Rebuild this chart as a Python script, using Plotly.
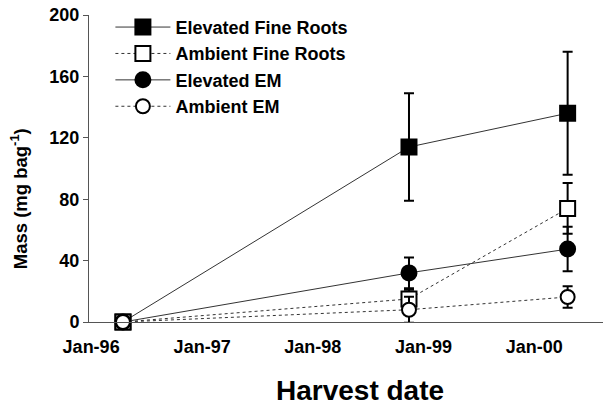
import plotly.graph_objects as go

dates = ["1996-04-15", "1998-11-14", "2000-04-20"]
tick_dates = ["1996-01-01", "1997-01-01", "1998-01-01", "1999-01-01", "2000-01-01"]
tick_labels = ["Jan-96", "Jan-97", "Jan-98", "Jan-99", "Jan-00"]

elev_fr = [0, 114, 136]
elev_fr_err = [0, 35, 40]
amb_fr = [0, 15, 74]
amb_fr_err = [0, 6, 16.5]
elev_em = [0, 32, 47.5]
elev_em_err = [0, 10, 14.5]
amb_em = [0, 8, 16.3]
amb_em_err = [0, 8.5, 7]

FONT = "Liberation Sans, Arial, sans-serif"

series = [
    ("Elevated Fine Roots", elev_fr, elev_fr_err, "square", "black", "solid", 15),
    ("Ambient Fine Roots", amb_fr, amb_fr_err, "square", "white", "dot", 15),
    ("Elevated EM", elev_em, elev_em_err, "circle", "black", "solid", 15),
    ("Ambient EM", amb_em, amb_em_err, "circle", "white", "dot", 14),
]

fig = go.Figure()
for name, y, err, sym, col, dash, size in series:
    fig.add_trace(go.Scatter(
        x=dates, y=y, name=name, mode="lines+markers",
        line=dict(color="#333333", width=1, dash=dash),
        marker=dict(symbol=sym, size=size, color=col,
                    line=dict(color="black", width=2)),
        error_y=dict(type="data", array=err, visible=True, color="black",
                     thickness=2, width=5),
        cliponaxis=False,
    ))

# page has an 8px body margin, so the figure is 8px smaller and offset
fig.update_layout(
    width=603, height=399,
    margin=dict(l=81, r=0, t=7, b=85, autoexpand=False),
    paper_bgcolor="white", plot_bgcolor="white",
    font=dict(family=FONT, color="black", size=14, weight="bold"),
    showlegend=True,
    legend=dict(x=0.041, y=1.02, xanchor="left", yanchor="top",
                font=dict(size=18, family=FONT, weight="bold"),
                itemwidth=55, bgcolor="rgba(0,0,0,0)", tracegroupgap=0),
    annotations=[
        dict(text="Mass (mg bag<sup>-1</sup>)", xref="paper", yref="paper",
             x=-0.134, y=0.40, textangle=-90, showarrow=False,
             xanchor="center", yanchor="middle",
             font=dict(size=18.5, family=FONT, weight="bold")),
        dict(text="Harvest date", xref="paper", yref="paper",
             x=0.5 + 10 / 522, y=-0.222, showarrow=False,
             xanchor="center", yanchor="middle",
             font=dict(size=28, family=FONT, weight="bold")),
    ],
)
fig.update_xaxes(
    type="date", range=["1995-12-25", "2000-09-10"], automargin=False,
    tickvals=tick_dates, ticktext=tick_labels,
    showline=True, linecolor="#555555", linewidth=1,
    showgrid=False, zeroline=False, ticks="", ticklabelstandoff=8,
    ticklabeloverflow="allow",
    tickfont=dict(size=18, family=FONT, weight="bold"),
)
fig.update_yaxes(
    range=[0, 200], tickvals=[0, 40, 80, 120, 160, 200], automargin=False,
    showline=True, linecolor="#555555", linewidth=1,
    showgrid=False, zeroline=False, ticks="outside", ticklen=5, tickcolor="#555555",
    ticklabeloverflow="allow",
    tickfont=dict(size=18, family=FONT, weight="bold"),
)

fig.write_html("out.html")
